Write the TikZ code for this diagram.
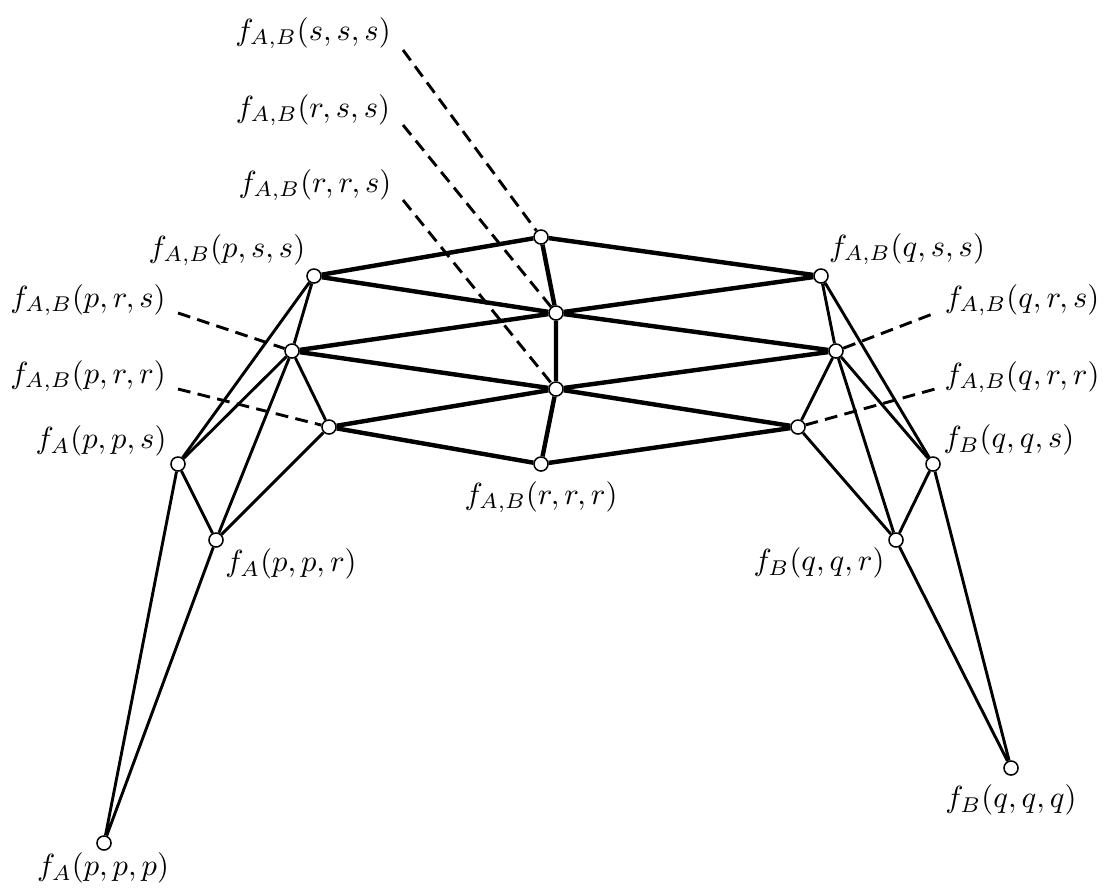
\documentclass[tikz,border=0pt]{standalone}
\usepackage{amsmath, amsfonts, amssymb}
\usetikzlibrary{positioning}

\begin{document}
\begin{tikzpicture}[
  x=0.0115cm, y=-0.0115cm,
  dot/.style = {draw,fill=white,circle,inner sep=0pt,minimum size=4.6pt,line width=0.5pt},
  thin edge/.style = {line width=0.95pt},
  thick edge/.style = {line width=1.45pt},
  pointer/.style = {line width=0.95pt,dash pattern=on 4.2pt off 2.4pt}
  ]
  \useasboundingbox (0,0) rectangle (1103,891);
  % vertices
  \node[dot] (sss) at (541,237) {};
  \node[dot] (rss) at (556,313) {};
  \node[dot] (rrs) at (556,389) {};
  \node[dot] (rrr) at (541,464) {};
  \node[dot] (pss) at (314,276) {};
  \node[dot] (prs) at (292,351) {};
  \node[dot] (prr) at (329,427) {};
  \node[dot] (pps) at (178,464) {};
  \node[dot] (ppr) at (216,540) {};
  \node[dot] (ppp) at (104,843) {};
  \node[dot] (qss) at (821,276) {};
  \node[dot] (qrs) at (836,351) {};
  \node[dot] (qrr) at (798,427) {};
  \node[dot] (qqs) at (933,464) {};
  \node[dot] (qqr) at (896,540) {};
  \node[dot] (qqq) at (1011,768) {};
  % labels
  \node (Lsss) at (313,33) {$f_{A,B}(s,s,s)$};
  \node (Lrss) at (313,110) {$f_{A,B}(r,s,s)$};
  \node (Lrrs) at (315,185) {$f_{A,B}(r,r,s)$};
  \node (Lrrr) at (541,497) {$f_{A,B}(r,r,r)$};
  \node (Lpss) at (227,250) {$f_{A,B}(p,s,s)$};
  \node (Lprs) at (88,300) {$f_{A,B}(p,r,s)$};
  \node (Lprr) at (88,376) {$f_{A,B}(p,r,r)$};
  \node (Lpps) at (101,441) {$f_{A}(p,p,s)$};
  \node (Lppr) at (291,564) {$f_{A}(p,p,r)$};
  \node (Lppp) at (103,868) {$f_{A}(p,p,p)$};
  \node (Lqss) at (907,249) {$f_{A,B}(q,s,s)$};
  \node (Lqrs) at (1022,300) {$f_{A,B}(q,r,s)$};
  \node (Lqrr) at (1022,377) {$f_{A,B}(q,r,r)$};
  \node (Lqqs) at (1009,440) {$f_{B}(q,q,s)$};
  \node (Lqqr) at (819,563) {$f_{B}(q,q,r)$};
  \node (Lqqq) at (1011,800) {$f_{B}(q,q,q)$};
  % free ends of the dashed pointers
  \coordinate (Psss) at (403,50);
  \coordinate (Prss) at (403,125);
  \coordinate (Prrs) at (403,200);
  \coordinate (Pprs) at (178,313);
  \coordinate (Pprr) at (178,389);
  \coordinate (Pqrs) at (935,313);
  \coordinate (Pqrr) at (935,389);
  % middle band
  \draw[thick edge] (pss) -- (sss) -- (qss);
  \draw[thick edge] (pss) -- (rss) -- (qss);
  \draw[thick edge] (prs) -- (rss) -- (qrs);
  \draw[thick edge] (prs) -- (rrs) -- (qrs);
  \draw[thick edge] (prr) -- (rrs) -- (qrr);
  \draw[thick edge] (prr) -- (rrr) -- (qrr);
  \draw[thick edge] (sss) -- (rss) -- (rrs) -- (rrr);
  % left wing
  \draw[thin edge] (pss) -- (prs) -- (prr) -- (ppr) -- (pps) -- (pss);
  \draw[thin edge] (prs) -- (pps);
  \draw[thin edge] (prs) -- (ppr);
  \draw[thin edge] (pps) -- (ppp) -- (ppr);
  % right wing
  \draw[thin edge] (qss) -- (qrs) -- (qrr) -- (qqr) -- (qqs) -- (qss);
  \draw[thin edge] (qrs) -- (qqs);
  \draw[thin edge] (qrs) -- (qqr);
  \draw[thin edge] (qqs) -- (qqq) -- (qqr);
  % pointers
  \draw[pointer] (Psss) -- (sss);
  \draw[pointer] (Prss) -- (rss);
  \draw[pointer] (Prrs) -- (rrs);
  \draw[pointer] (Pprs) -- (prs);
  \draw[pointer] (Pprr) -- (prr);
  \draw[pointer] (qrs) -- (Pqrs);
  \draw[pointer] (qrr) -- (Pqrr);
\end{tikzpicture}
\end{document}
